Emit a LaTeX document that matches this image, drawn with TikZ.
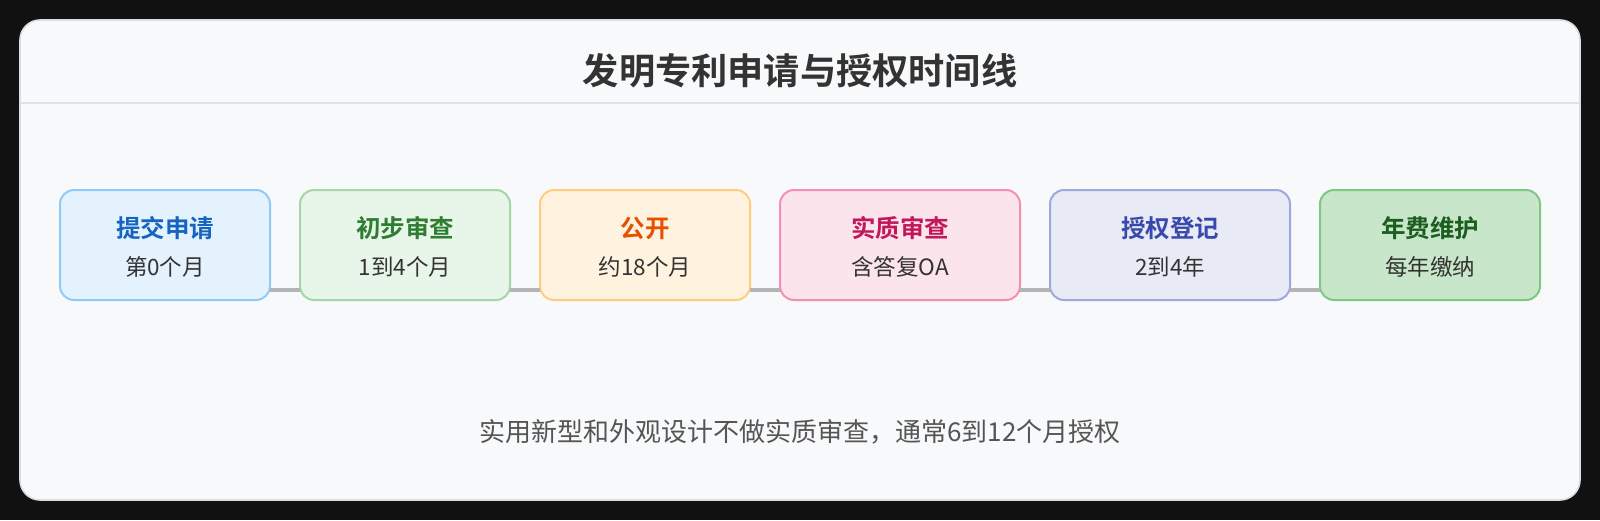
\documentclass[tikz,border=0pt]{standalone}
\usepackage{fontspec}
\setmainfont{Noto Sans CJK SC}[BoldFont={Noto Sans CJK SC Bold}]
\definecolor{pagebg}{HTML}{111111}
\definecolor{cardbg}{HTML}{F8F9FA}
\definecolor{cardln}{HTML}{DADDE2}
\definecolor{divln}{HTML}{DEE1E6}
\definecolor{connln}{HTML}{B4B4B4}
\definecolor{txtdark}{HTML}{333333}
\definecolor{txtnote}{HTML}{555555}
\definecolor{fA}{HTML}{E3F2FD}\definecolor{dA}{HTML}{90CAF9}\definecolor{tA}{HTML}{1565C0}
\definecolor{fB}{HTML}{E8F5E9}\definecolor{dB}{HTML}{A5D6A7}\definecolor{tB}{HTML}{2E7D32}
\definecolor{fC}{HTML}{FFF3E0}\definecolor{dC}{HTML}{FFCC80}\definecolor{tC}{HTML}{E65100}
\definecolor{fD}{HTML}{FCE4EC}\definecolor{dD}{HTML}{F48FB1}\definecolor{tD}{HTML}{C2185B}
\definecolor{fE}{HTML}{E8EAF6}\definecolor{dE}{HTML}{9FA8DA}\definecolor{tE}{HTML}{3949AB}
\definecolor{fF}{HTML}{C8E6C9}\definecolor{dF}{HTML}{81C784}\definecolor{tF}{HTML}{1B5E20}
\begin{document}
\begin{tikzpicture}[x=1pt,y=-1pt,
  stagebox/.style={rectangle, rounded corners=14pt, line width=2pt, outer sep=0pt, inner sep=0pt, minimum height=110pt},
  stagettl/.style={inner sep=0pt, font=\fontsize{24.5}{28}\selectfont\bfseries},
  stagesub/.style={inner sep=0pt, text=txtdark, font=\fontsize{22.5}{26}\selectfont},
  conn/.style={draw=connln, line width=3.2pt}
]
\useasboundingbox (0,0) rectangle (1600,520);
\fill[pagebg] (0,0) rectangle (1600,520);
\fill[cardbg, rounded corners=20pt] (20,20) rectangle (1580,500);
\draw[divln, line width=2pt] (20,103) -- (1580,103);
\draw[cardln, line width=1.6pt, rounded corners=20pt] (20,20) rectangle (1580,500);

\node[inner sep=0pt, text=txtdark, font=\fontsize{36.2}{40}\selectfont\bfseries] (title) at (800,71) {发明专利申请与授权时间线};

\node[stagebox, fill=fA, draw=dA, minimum width=210pt] (b1) at (165,245) {};
\node[stagebox, fill=fB, draw=dB, minimum width=210pt] (b2) at (405,245) {};
\node[stagebox, fill=fC, draw=dC, minimum width=210pt] (b3) at (645,245) {};
\node[stagebox, fill=fD, draw=dD, minimum width=240pt] (b4) at (900,245) {};
\node[stagebox, fill=fE, draw=dE, minimum width=240pt] (b5) at (1170,245) {};
\node[stagebox, fill=fF, draw=dF, minimum width=220pt] (b6) at (1430,245) {};

\foreach \a/\b in {b1/b2,b2/b3,b3/b4,b4/b5,b5/b6}
  \draw[conn] ([yshift=10pt]\a.south east) -- ([yshift=10pt]\b.south west);

\node[stagettl, text=tA] (t1) at (165,228) {提交申请};
\node[stagesub] (s1) at (165,267) {第0个月};
\node[stagettl, text=tB] (t2) at (405,228) {初步审查};
\node[stagesub] (s2) at (405,267) {1到4个月};
\node[stagettl, text=tC] (t3) at (645,228) {公开};
\node[stagesub] (s3) at (645,267) {约18个月};
\node[stagettl, text=tD] (t4) at (900,228) {实质审查};
\node[stagesub] (s4) at (900,267) {含答复OA};
\node[stagettl, text=tE] (t5) at (1170,228) {授权登记};
\node[stagesub] (s5) at (1170,267) {2到4年};
\node[stagettl, text=tF] (t6) at (1430,228) {年费维护};
\node[stagesub] (s6) at (1430,267) {每年缴纳};

\node[inner sep=0pt, text=txtnote, font=\fontsize{26}{30}\selectfont] (note) at (800,432) {实用新型和外观设计不做实质审查，通常6到12个月授权};
\end{tikzpicture}
\end{document}
